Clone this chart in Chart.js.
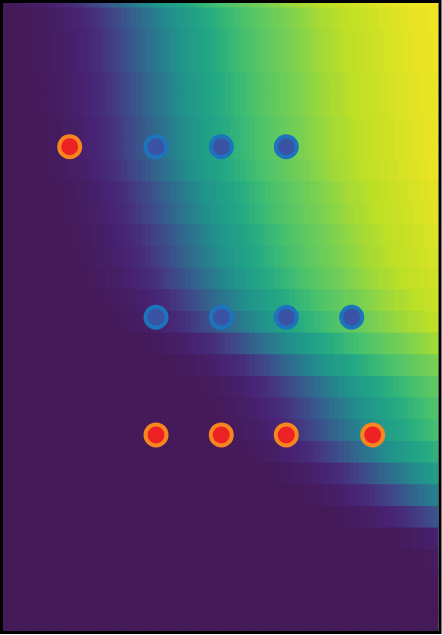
<!DOCTYPE html>
<html><head><meta charset="utf-8">
<style>html,body{margin:0;padding:0;background:#fff;}canvas{display:block;}</style>
<script src="https://cdn.jsdelivr.net/npm/chart.js@4.4.0/dist/chart.umd.min.js"></script>
</head><body>
<canvas id="c" width="442" height="635"></canvas>
<script>
// ---- data ----
const columnLabels = ["0","1","2","3","4","5","6","7","8","9","10","11","12","13","14","15","16","17","18","19","20","21","22","23","24","25","26","27","28","29","30","31","32","33","34","35","36","37","38","39","40","41","42","43","44","45","46","47","48","49","50","51","52","53","54","55","56","57","58","59","60","61","62","63","64","65","66","67","68","69","70","71","72","73","74","75","76","77","78","79","80","81","82","83","84","85","86","87"];
const rowIds = [-1,0,1,2,3,4,5,6,7,8,9,10,11,12,13,14,15,16,17,18,19,20,21,22,23,24,25,26,27,28];
const heatRows = [
[2,3,3,4,4,5,5,6,7,8,9,10,11,12,13,15,17,19,21,23,26,28,31,33,36,38,41,43,46,48,50,52,53,55,56,58,59,61,62,64,65,67,68,70,71,72,73,74,75,76,77,78,79,80,81,82,83,84,85,86,87,87,88,89,90,90,91,91,92,92,93,93,94,94,95,95,96,96,97,97,97,97,98,98,98,98,99,99],
[2,2,2,2,2,3,3,4,4,5,5,6,7,8,9,10,11,12,13,15,17,19,21,23,26,28,31,33,36,38,41,43,46,48,50,52,53,55,56,58,59,61,62,64,65,67,68,70,71,72,73,74,75,76,77,78,79,80,81,82,83,84,85,86,87,87,88,89,90,90,91,91,92,92,93,93,94,94,95,95,96,96,97,97,97,97,98,98],
[2,2,2,2,2,2,3,3,4,4,5,5,6,7,8,9,10,11,12,13,15,17,19,21,23,26,28,31,33,36,38,41,43,46,48,50,52,53,55,56,58,59,61,62,64,65,67,68,70,71,72,73,74,75,76,77,78,79,80,81,82,83,84,85,86,87,87,88,89,90,90,91,91,92,92,93,93,94,94,95,95,96,96,97,97,97,97,98],
[2,2,2,2,2,2,3,3,4,4,5,5,6,7,8,9,10,11,12,13,15,17,19,21,23,26,28,31,33,36,38,41,43,46,48,50,52,53,55,56,58,59,61,62,64,65,67,68,70,71,72,73,74,75,76,77,78,79,80,81,82,83,84,85,86,87,87,88,89,90,90,91,91,92,92,93,93,94,94,95,95,96,96,97,97,97,97,98],
[2,2,2,2,2,2,2,3,3,4,4,5,5,6,7,8,9,10,11,12,13,15,17,19,21,23,26,28,31,33,36,38,41,43,46,48,50,52,53,55,56,58,59,61,62,64,65,67,68,70,71,72,73,74,75,76,77,78,79,80,81,82,83,84,85,86,87,87,88,89,90,90,91,91,92,92,93,93,94,94,95,95,96,96,97,97,97,97],
[2,2,2,2,2,2,2,3,3,4,4,5,5,6,7,8,9,10,11,12,13,15,17,19,21,23,26,28,31,33,36,38,41,43,46,48,50,52,53,55,56,58,59,61,62,64,65,67,68,70,71,72,73,74,75,76,77,78,79,80,81,82,83,84,85,86,87,87,88,89,90,90,91,91,92,92,93,93,94,94,95,95,96,96,97,97,97,97],
[2,2,2,2,2,2,2,2,3,3,4,4,5,5,6,7,8,9,10,11,12,13,15,17,19,21,23,26,28,31,33,36,38,41,43,46,48,50,52,53,55,56,58,59,61,62,64,65,67,68,70,71,72,73,74,75,76,77,78,79,80,81,82,83,84,85,86,87,87,88,89,90,90,91,91,92,92,93,93,94,94,95,95,96,96,97,97,97],
[2,2,2,2,2,2,2,2,3,3,4,4,5,5,6,7,8,9,10,11,12,13,15,17,19,21,23,26,28,31,33,36,38,41,43,46,48,50,52,53,55,56,58,59,61,62,64,65,67,68,70,71,72,73,74,75,76,77,78,79,80,81,82,83,84,85,86,87,87,88,89,90,90,91,91,92,92,93,93,94,94,95,95,96,96,97,97,97],
[2,2,2,2,2,2,2,2,2,3,3,4,4,5,5,6,7,8,9,10,11,12,13,15,17,19,21,23,26,28,31,33,36,38,41,43,46,48,50,52,53,55,56,58,59,61,62,64,65,67,68,70,71,72,73,74,75,76,77,78,79,80,81,82,83,84,85,86,87,87,88,89,90,90,91,91,92,92,93,93,94,94,95,95,96,96,97,97],
[2,2,2,2,2,2,2,2,2,2,2,3,3,4,4,5,5,6,7,8,9,10,11,12,13,15,17,19,21,23,26,28,31,33,36,38,41,43,46,48,50,52,53,55,56,58,59,61,62,64,65,67,68,70,71,72,73,74,75,76,77,78,79,80,81,82,83,84,85,86,87,87,88,89,90,90,91,91,92,92,93,93,94,94,95,95,96,96],
[2,2,2,2,2,2,2,2,2,2,2,2,3,3,4,4,5,5,6,7,8,9,10,11,12,13,15,17,19,21,23,26,28,31,33,36,38,41,43,46,48,50,52,53,55,56,58,59,61,62,64,65,67,68,70,71,72,73,74,75,76,77,78,79,80,81,82,83,84,85,86,87,87,88,89,90,90,91,91,92,92,93,93,94,94,95,95,96],
[2,2,2,2,2,2,2,2,2,2,2,2,2,2,3,3,4,4,5,5,6,7,8,9,10,11,12,13,15,17,19,21,23,26,28,31,33,36,38,41,43,46,48,50,52,53,55,56,58,59,61,62,64,65,67,68,70,71,72,73,74,75,76,77,78,79,80,81,82,83,84,85,86,87,87,88,89,90,90,91,91,92,92,93,93,94,94,95],
[2,2,2,2,2,2,2,2,2,2,2,2,2,2,2,3,3,4,4,5,5,6,7,8,9,10,11,12,13,15,17,19,21,23,26,28,31,33,36,38,41,43,46,48,50,52,53,55,56,58,59,61,62,64,65,67,68,70,71,72,73,74,75,76,77,78,79,80,81,82,83,84,85,86,87,87,88,89,90,90,91,91,92,92,93,93,94,94],
[2,2,2,2,2,2,2,2,2,2,2,2,2,2,2,2,2,3,3,4,4,5,5,6,7,8,9,10,11,12,13,15,17,19,21,23,26,28,31,33,36,38,41,43,46,48,50,52,53,55,56,58,59,61,62,64,65,67,68,70,71,72,73,74,75,76,77,78,79,80,81,82,83,84,85,86,87,87,88,89,90,90,91,91,92,92,93,93],
[2,2,2,2,2,2,2,2,2,2,2,2,2,2,2,2,2,2,2,2,3,3,4,4,5,5,6,7,8,9,10,11,12,13,15,17,19,21,23,26,28,31,33,36,38,41,43,46,48,50,52,53,55,56,58,59,61,62,64,65,67,68,70,71,72,73,74,75,76,77,78,79,80,81,82,83,84,85,86,87,87,88,89,90,90,91,91,92],
[2,2,2,2,2,2,2,2,2,2,2,2,2,2,2,2,2,2,2,2,2,2,2,3,3,4,4,5,5,6,7,8,9,10,11,12,13,15,17,19,21,23,26,28,31,33,36,38,41,43,46,48,50,52,53,55,56,58,59,61,62,64,65,67,68,70,71,72,73,74,75,76,77,78,79,80,81,82,83,84,85,86,87,87,88,89,90,90],
[2,2,2,2,2,2,2,2,2,2,2,2,2,2,2,2,2,2,2,2,2,2,2,2,2,2,2,2,2,3,3,4,4,5,5,6,7,8,9,10,11,12,13,15,17,19,21,23,26,28,31,33,36,38,41,43,46,48,50,52,53,55,56,58,59,61,62,64,65,67,68,70,71,72,73,74,75,76,77,78,79,80,81,82,83,84,85,86],
[2,2,2,2,2,2,2,2,2,2,2,2,2,2,2,2,2,2,2,2,2,2,2,2,2,2,2,2,2,2,2,2,2,2,2,3,3,4,4,5,5,6,7,8,9,10,11,12,13,15,17,19,21,23,26,28,31,33,36,38,41,43,46,48,50,52,53,55,56,58,59,61,62,64,65,67,68,70,71,72,73,74,75,76,77,78,79,80],
[2,2,2,2,2,2,2,2,2,2,2,2,2,2,2,2,2,2,2,2,2,2,2,2,2,2,2,2,2,2,2,2,2,2,2,2,2,2,2,2,3,3,4,4,5,5,6,7,8,9,10,11,12,13,15,17,19,21,23,26,28,31,33,36,38,41,43,46,48,50,52,53,55,56,58,59,61,62,64,65,67,68,70,71,72,73,74,75],
[2,2,2,2,2,2,2,2,2,2,2,2,2,2,2,2,2,2,2,2,2,2,2,2,2,2,2,2,2,2,2,2,2,2,2,2,2,2,2,2,2,2,2,3,3,4,4,5,5,6,7,8,9,10,11,12,13,15,17,19,21,23,26,28,31,33,36,38,41,43,46,48,50,52,53,55,56,58,59,61,62,64,65,67,68,70,71,72],
[2,2,2,2,2,2,2,2,2,2,2,2,2,2,2,2,2,2,2,2,2,2,2,2,2,2,2,2,2,2,2,2,2,2,2,2,2,2,2,2,2,2,2,2,2,3,3,4,4,5,5,6,7,8,9,10,11,12,13,15,17,19,21,23,26,28,31,33,36,38,41,43,46,48,50,52,53,55,56,58,59,61,62,64,65,67,68,70],
[2,2,2,2,2,2,2,2,2,2,2,2,2,2,2,2,2,2,2,2,2,2,2,2,2,2,2,2,2,2,2,2,2,2,2,2,2,2,2,2,2,2,2,2,2,2,2,2,2,3,3,4,4,5,5,6,7,8,9,10,11,12,13,15,17,19,21,23,26,28,31,33,36,38,41,43,46,48,50,52,53,55,56,58,59,61,62,64],
[2,2,2,2,2,2,2,2,2,2,2,2,2,2,2,2,2,2,2,2,2,2,2,2,2,2,2,2,2,2,2,2,2,2,2,2,2,2,2,2,2,2,2,2,2,2,2,2,2,2,2,2,2,2,2,3,3,4,4,5,5,6,7,8,9,10,11,12,13,15,17,19,21,23,26,28,31,33,36,38,41,43,46,48,50,52,53,55],
[2,2,2,2,2,2,2,2,2,2,2,2,2,2,2,2,2,2,2,2,2,2,2,2,2,2,2,2,2,2,2,2,2,2,2,2,2,2,2,2,2,2,2,2,2,2,2,2,2,2,2,2,2,2,2,2,2,2,2,2,2,3,3,4,4,5,5,6,7,8,9,10,11,12,13,15,17,19,21,23,26,28,31,33,36,38,41,43],
[2,2,2,2,2,2,2,2,2,2,2,2,2,2,2,2,2,2,2,2,2,2,2,2,2,2,2,2,2,2,2,2,2,2,2,2,2,2,2,2,2,2,2,2,2,2,2,2,2,2,2,2,2,2,2,2,2,2,2,2,2,2,2,2,2,2,2,2,3,3,4,4,5,5,6,7,8,9,10,11,12,13,15,17,19,21,23,26],
[2,2,2,2,2,2,2,2,2,2,2,2,2,2,2,2,2,2,2,2,2,2,2,2,2,2,2,2,2,2,2,2,2,2,2,2,2,2,2,2,2,2,2,2,2,2,2,2,2,2,2,2,2,2,2,2,2,2,2,2,2,2,2,2,2,2,2,2,2,2,2,2,2,2,2,2,2,2,2,3,3,4,4,5,5,6,7,8],
[2,2,2,2,2,2,2,2,2,2,2,2,2,2,2,2,2,2,2,2,2,2,2,2,2,2,2,2,2,2,2,2,2,2,2,2,2,2,2,2,2,2,2,2,2,2,2,2,2,2,2,2,2,2,2,2,2,2,2,2,2,2,2,2,2,2,2,2,2,2,2,2,2,2,2,2,2,2,2,2,2,2,2,2,2,3,3,4],
[2,2,2,2,2,2,2,2,2,2,2,2,2,2,2,2,2,2,2,2,2,2,2,2,2,2,2,2,2,2,2,2,2,2,2,2,2,2,2,2,2,2,2,2,2,2,2,2,2,2,2,2,2,2,2,2,2,2,2,2,2,2,2,2,2,2,2,2,2,2,2,2,2,2,2,2,2,2,2,2,2,2,2,2,2,2,3,3],
[2,2,2,2,2,2,2,2,2,2,2,2,2,2,2,2,2,2,2,2,2,2,2,2,2,2,2,2,2,2,2,2,2,2,2,2,2,2,2,2,2,2,2,2,2,2,2,2,2,2,2,2,2,2,2,2,2,2,2,2,2,2,2,2,2,2,2,2,2,2,2,2,2,2,2,2,2,2,2,2,2,2,2,2,2,2,2,2],
[2,2,2,2,2,2,2,2,2,2,2,2,2,2,2,2,2,2,2,2,2,2,2,2,2,2,2,2,2,2,2,2,2,2,2,2,2,2,2,2,2,2,2,2,2,2,2,2,2,2,2,2,2,2,2,2,2,2,2,2,2,2,2,2,2,2,2,2,2,2,2,2,2,2,2,2,2,2,2,2,2,2,2,2,2,2,2,2]
];
const blueX = [30.92, 44.11, 57.24, 30.92, 44.11, 57.24, 70.46];
const blueY = [6.45, 6.45, 6.45, 14.32, 14.32, 14.32, 14.32];
const redX = [13.48, 30.92, 44.11, 57.24, 74.70];
const redY = [6.45, 19.75, 19.75, 19.75, 19.75];

// ---- colormap (viridis-like) ----
const STOPS = [[68,23,82],[72,36,117],[65,68,135],[53,95,141],[42,120,142],[33,145,140],[34,168,132],[68,191,112],[122,209,81],[189,223,38],[250,230,35]];
function cmap(v){
  const t = Math.max(0, Math.min(1, v/100)) * 10;
  const i = Math.min(9, Math.floor(t)); const f = t - i;
  const a = STOPS[i], b = STOPS[i+1];
  return 'rgb(' + [0,1,2].map(k => Math.round(a[k] + (b[k]-a[k])*f)).join(',') + ')';
}

const heatDatasets = heatRows.map((vals, r) => ({
  type: 'bar',
  label: 'row ' + rowIds[r],
  data: vals.map(() => [rowIds[r], rowIds[r] + 1]),
  backgroundColor: vals.map(cmap),
  borderWidth: 0,
  inflateAmount: 0.6,
  barPercentage: 1,
  categoryPercentage: 1,
  grouped: false,
  order: 2,
  xAxisID: 'x',
  yAxisID: 'y',
  clip: 0
}));

const pointDatasets = [
  { type: 'scatter', label: 'class A', data: blueX.map((x, i) => ({x: x, y: blueY[i]})),
    xAxisID: 'x2', yAxisID: 'y', pointRadius: 10.5, borderWidth: 4,
    backgroundColor: '#3b53a5', borderColor: '#1c75bc', order: 0, clip: false },
  { type: 'scatter', label: 'class B', data: redX.map((x, i) => ({x: x, y: redY[i]})),
    xAxisID: 'x2', yAxisID: 'y', pointRadius: 10.5, borderWidth: 4,
    backgroundColor: '#ed2224', borderColor: '#f7861f', order: 0, clip: false }
];

const frame = {
  id: 'frame',
  afterDraw(chart) {
    const a = chart.chartArea, ctx = chart.ctx;
    ctx.save();
    ctx.strokeStyle = '#000';
    ctx.lineWidth = 3;
    ctx.strokeRect(a.left - 1.5, a.top - 1.5, a.right - a.left + 3, a.bottom - a.top + 3);
    ctx.restore();
  }
};

new Chart(document.getElementById('c'), {
  type: 'bar',
  data: { labels: columnLabels, datasets: pointDatasets.concat(heatDatasets) },
  options: {
    responsive: false,
    animation: false,
    events: [],
    devicePixelRatio: 1,
    layout: { autoPadding: false, padding: { left: 3, top: 3, right: 3.5, bottom: 4 } },
    plugins: { legend: { display: false }, tooltip: { enabled: false } },
    scales: {
      x: { type: 'category', labels: columnLabels, display: false, offset: true },
      x2: { type: 'linear', min: 0, max: 88, display: false, offset: false },
      y: { type: 'linear', min: -0.185, max: 28.8, reverse: true, display: false, offset: false }
    }
  },
  plugins: [frame]
});
</script>
</body></html>
